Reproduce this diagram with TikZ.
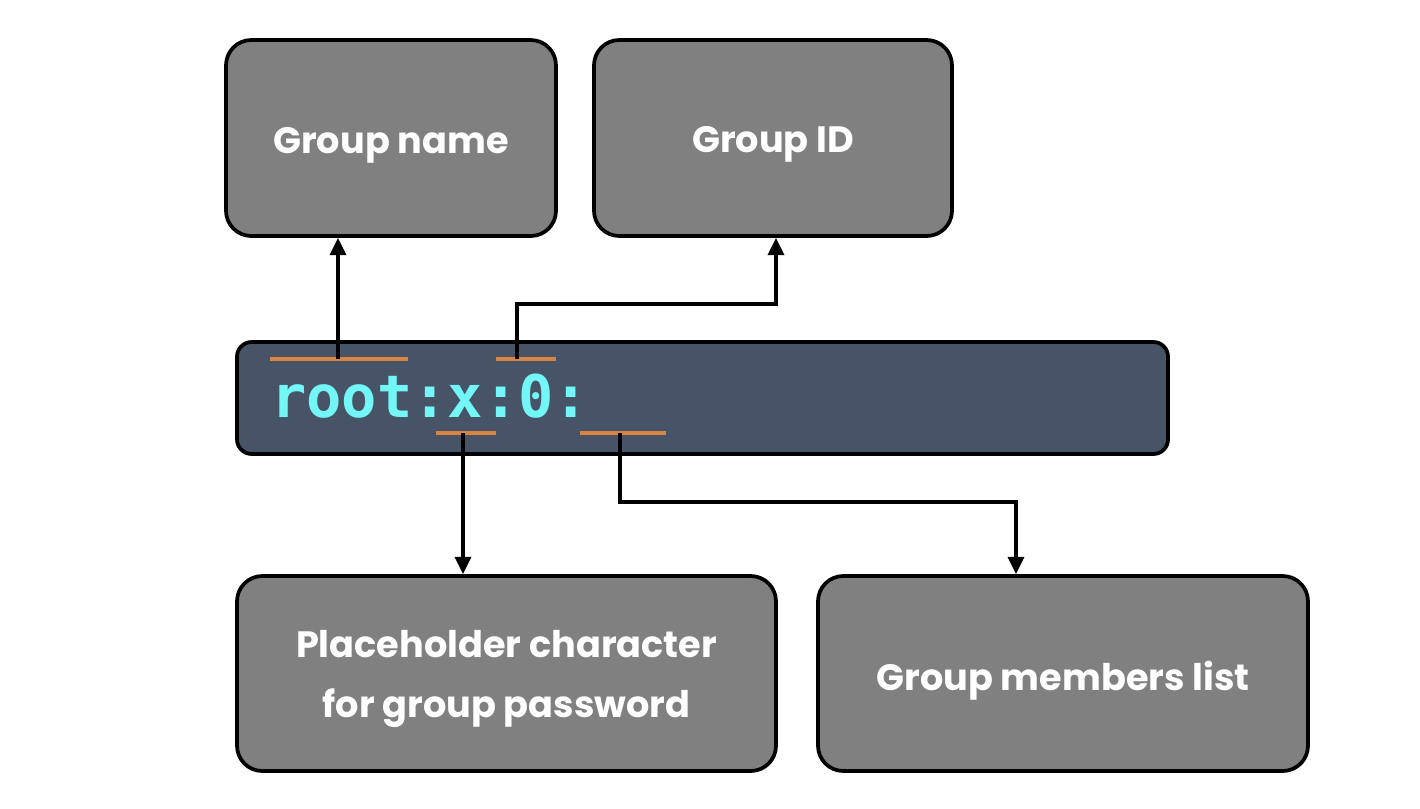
\documentclass[tikz,border=0pt]{standalone}
\usepackage{fontspec}
\setmainfont{Poppins}
\newfontfamily\codefont{DejaVu Sans Mono}
\usetikzlibrary{arrows.meta}
\definecolor{boxgray}{HTML}{808080}
\definecolor{barblue}{HTML}{475468}
\definecolor{codecyan}{HTML}{72F6F6}
\definecolor{markorange}{HTML}{D9843F}
\tikzset{
  infobox/.style={draw=black, line width=2.8pt, fill=boxgray, rounded corners=19pt, inner sep=0pt},
  boxtext/.style={text=white, font=\bfseries\fontsize{27.5}{45}\selectfont, align=center, inner sep=0pt},
  codebar/.style={draw=black, line width=2.8pt, fill=barblue, rounded corners=11pt, inner sep=0pt},
  ulmark/.style={draw=markorange, line width=2.5pt},
  conn/.style={draw=black, line width=2.8pt, -{Triangle[length=13pt,width=12pt]}},
}
\begin{document}
\begin{tikzpicture}[x=0.75pt,y=-0.75pt]
\useasboundingbox (0,0) rectangle (1420,808);
\node[infobox, minimum width=247.5pt, minimum height=147pt] (gname) at (391,138) {};
\node[boxtext] (gnamet) at ([yshift=-5.5pt]gname.center) {Group name};
\node[infobox, minimum width=268.5pt, minimum height=147pt] (gid) at (773,138) {};
\node[boxtext] (gidt) at ([yshift=-5pt]gid.center) {Group ID};
\node[codebar, minimum width=698.25pt, minimum height=84pt] (bar) at (702.5,398) {};
\node[anchor=base west, inner sep=0pt, text=codecyan, font=\codefont\bfseries\fontsize{44}{50}\selectfont] (code) at (271,417) {root:x:0:};
\node[infobox, minimum width=404.25pt, minimum height=146.25pt] (ph) at (506.5,673.5) {};
\node[boxtext] (pht) at ([yshift=-4pt]ph.center) {Placeholder character\\for group password};
\node[infobox, minimum width=367.5pt, minimum height=146.25pt] (gm) at (1063,673.5) {};
\node[boxtext] (gmt) at ([yshift=-5.5pt]gm.center) {Group members list};
% underline marks
\coordinate (m1a) at (270,359); \coordinate (m1b) at (408,359); \coordinate (m1) at (338,359);
\coordinate (m2a) at (496,359); \coordinate (m2b) at (556,359); \coordinate (m2) at (517,359);
\coordinate (m3a) at (436,433); \coordinate (m3b) at (496,433); \coordinate (m3) at (463,433);
\coordinate (m4a) at (580,433); \coordinate (m4b) at (666,433); \coordinate (m4) at (620,433);
\draw[ulmark] (m1a) -- (m1b);
\draw[ulmark] (m2a) -- (m2b);
\draw[ulmark] (m3a) -- (m3b);
\draw[ulmark] (m4a) -- (m4b);
\draw[conn] (m1) -- (m1 |- gname.south);
\draw[conn] (m2) -- (517,304) -- (776,304) -- (776,0 |- gid.south);
\draw[conn] (m3) -- (m3 |- ph.north);
\draw[conn] (m4) -- (620,502) -- (1016,502) -- (1016,0 |- gm.north);
\end{tikzpicture}
\end{document}
